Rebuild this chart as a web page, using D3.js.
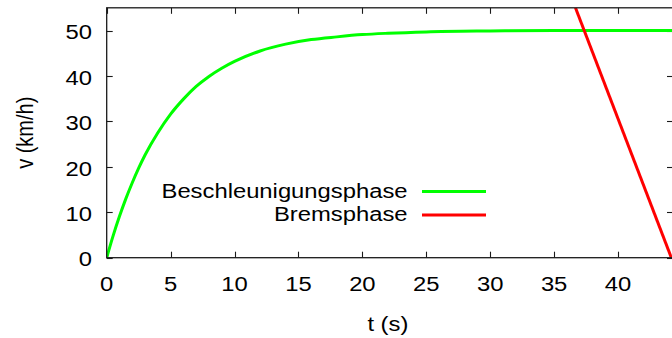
<!DOCTYPE html>
<html>
<head>
<meta charset="utf-8">
<script src="https://cdn.jsdelivr.net/npm/d3@7"></script>
<style>
  html, body { margin: 0; padding: 0; background: #fff; }
  svg { display: block; }
  text { font-family: "Liberation Sans", Arial, Helvetica, sans-serif; font-size: 20px; fill: #000; }
</style>
</head>
<body>
<svg id="chart" width="672" height="338"></svg>
<script>
// Acceleration phase: speed (km/h) over time (s)
const accelT = [0, 0.5, 1, 1.5, 2, 2.5, 3, 4, 5, 6, 7, 8, 9, 10, 12, 14, 16, 18, 20, 22, 25, 30, 35, 40, 44.3];
const accelV = [0, 4.8, 9.1, 13.0, 16.5, 19.7, 22.6, 27.5, 31.6, 34.9, 37.7, 39.9, 41.7, 43.2, 45.5, 47.0, 48.0, 48.6, 49.1, 49.4, 49.7, 49.9, 50.0, 50.0, 50.0];
// Braking phase: linear deceleration
const brakeT = [36.67, 44.17];
const brakeV = [55, 0];

const xTicks = [0, 5, 10, 15, 20, 25, 30, 35, 40];
const yTicks = [0, 10, 20, 30, 40, 50];
const seriesNames = ["Beschleunigungsphase", "Bremsphase"];
const seriesColors = ["#00ff00", "#ff0000"];
const xLabel = "t (s)";
const yLabel = "v (km/h)";

const svg = d3.select("#chart");
const plotL = 106.7, plotR = 673, plotT = 7.8, plotB = 257.7;
const stretch = 1.19;   // horizontal glyph stretch of the labels

const x = d3.scaleLinear().domain([0, 44.3]).range([plotL, plotR]);
const y = d3.scaleLinear().domain([0, 55]).range([plotB, plotT]);

function label(px, py, str, anchor, rot) {
  const g = svg.append("g")
    .attr("transform", `translate(${px},${py}) scale(${stretch},1)` + (rot ? ` rotate(${rot})` : ""));
  g.append("text").attr("text-anchor", anchor).text(str);
}

svg.append("clipPath").attr("id", "plot-clip")
  .append("rect").attr("x", plotL).attr("y", plotT)
  .attr("width", plotR - plotL).attr("height", plotB - plotT);

const axisColor = "#1a1a1a";
const tickLen = 6;

// ticks on all four sides, pointing inward
const tickG = svg.append("g").attr("stroke", axisColor).attr("stroke-width", 1.1);
xTicks.forEach(t => {
  const px = Math.round(x(t)) + 0.5;
  tickG.append("line").attr("x1", px).attr("x2", px).attr("y1", plotB).attr("y2", plotB - tickLen);
  tickG.append("line").attr("x1", px).attr("x2", px).attr("y1", plotT).attr("y2", plotT + tickLen);
});
yTicks.forEach(v => {
  const py = Math.round(y(v)) + 0.5;
  tickG.append("line").attr("x1", plotL).attr("x2", plotL + tickLen).attr("y1", py).attr("y2", py);
  tickG.append("line").attr("x1", plotR).attr("x2", plotR - tickLen).attr("y1", py).attr("y2", py);
});

// tick labels
xTicks.forEach(t => label(x(t), 290.5, String(t), "middle"));
yTicks.forEach(v => label(92, y(v) + 8.7, String(v), "end"));

// axis titles
label((plotL + plotR) / 2 - 2, 331, xLabel, "middle");
label(32.5, (plotT + plotB) / 2, yLabel, "middle", -90);

// data lines
const plot = svg.append("g").attr("clip-path", "url(#plot-clip)");
plot.append("path")
  .datum(accelT.map((t, i) => [t, accelV[i]]))
  .attr("fill", "none").attr("stroke", seriesColors[0]).attr("stroke-width", 3)
  .attr("d", d3.line().x(d => x(d[0])).y(d => y(d[1])).curve(d3.curveMonotoneX));
plot.append("path")
  .datum(brakeT.map((t, i) => [t, brakeV[i]]))
  .attr("fill", "none").attr("stroke", seriesColors[1]).attr("stroke-width", 3)
  .attr("d", d3.line().x(d => x(d[0])).y(d => y(d[1])));

// border
svg.append("rect")
  .attr("x", plotL).attr("y", plotT).attr("width", plotR - plotL).attr("height", plotB - plotT)
  .attr("fill", "none").attr("stroke", axisColor).attr("stroke-width", 1.3);

// legend
const legendY = [191.5, 215];
seriesNames.forEach((name, i) => {
  label(407.5, legendY[i] + 6.3, name, "end");
  svg.append("line")
    .attr("x1", 422).attr("x2", 486).attr("y1", legendY[i]).attr("y2", legendY[i])
    .attr("stroke", seriesColors[i]).attr("stroke-width", 3);
});
</script>
</body>
</html>
